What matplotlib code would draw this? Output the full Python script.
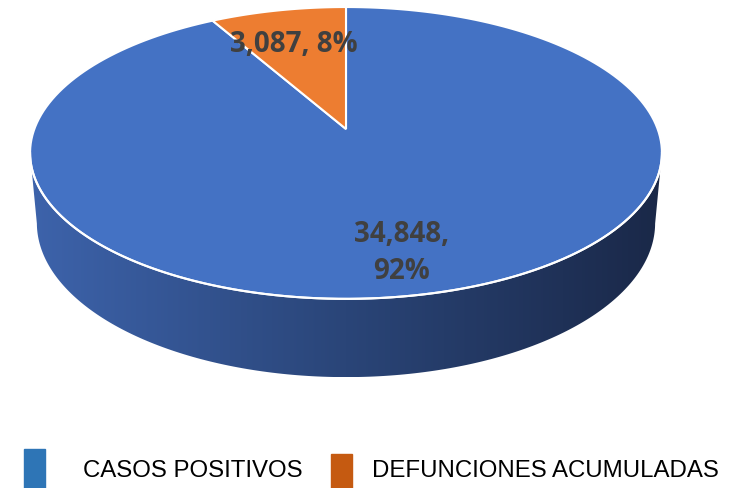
import numpy as np
import matplotlib
matplotlib.use("Agg")
import matplotlib.pyplot as plt
from matplotlib.patches import Polygon, Rectangle
from matplotlib.colors import LinearSegmentedColormap

categories = ["CASOS POSITIVOS", "DEFUNCIONES ACUMULADAS"]
values = [34848, 3087]
face_colors = ["#4472C4", "#ED7D31"]
legend_colors = ["#2E75B6", "#C55A11"]

# camera for the 3d look (disk radius 1)
ELEV = np.arcsin(0.4556)
DIST = 5.426
FOCAL = 1691.0
HEIGHT = 0.255
CX, CY = 346, 130


def proj(x, d, z):
    yc = d * np.sin(ELEV) + z * np.cos(ELEV)
    depth = DIST + d * np.cos(ELEV) - z * np.sin(ELEV)
    return CX + FOCAL * x / depth, CY - FOCAL * yc / depth


def arc(t0, t1, z=0.0, n=200):
    t = np.linspace(t0, t1, n)
    return np.column_stack(proj(np.cos(t), np.sin(t), z))


fig = plt.figure(figsize=(7.43, 4.89), dpi=100)
ax = fig.add_axes([0, 0, 1, 1])
ax.set_xlim(0, 743)
ax.set_ylim(489, 0)
ax.axis("off")

# side wall, front half only
k = np.cos(ELEV) / DIST
ts = np.arcsin(k)
top = arc(np.pi + ts, 2 * np.pi - ts)
bot = arc(2 * np.pi - ts, np.pi + ts, z=-HEIGHT)
side = Polygon(np.vstack([top, bot]), closed=True, facecolor="none", edgecolor="none")
ax.add_patch(side)
cmap = LinearSegmentedColormap.from_list("side", ["#3D63AB", "#2A4578", "#1A2848"])
grad = np.linspace(0, 1, 256).reshape(1, -1)
xs = np.vstack([top, bot])
im = ax.imshow(grad, cmap=cmap, aspect="auto",
               extent=[xs[:, 0].min(), xs[:, 0].max(), xs[:, 1].max(), xs[:, 1].min()])
im.set_clip_path(side)

# top face wedges, clockwise from 12 o'clock
fracs = np.array(values) / sum(values)
start = np.pi / 2
for frac, col in zip(fracs, face_colors):
    end = start - frac * 2 * np.pi
    pts = np.vstack([[proj(0, 0, 0)], arc(start, end)])
    ax.add_patch(Polygon(pts, closed=True, facecolor=col, edgecolor="white",
                         linewidth=1.5, joinstyle="miter"))
    start = end

# front rim highlight
ax.plot(top[:, 0], top[:, 1], color="white", lw=1.5)

# data labels
lbl = dict(color="#404040", fontsize=20, fontweight="bold", family="Open Sans",
           ha="center", va="center")
ax.text(294, 44, f"{values[1]:,}, {fracs[1]:.0%}", **lbl)
ax.text(402, 253, f"{values[0]:,},\n{fracs[0]:.0%}", linespacing=1.4, **lbl)

# legend
ax.add_patch(Rectangle((24, 450), 21, 40, color=legend_colors[0], clip_on=False))
ax.add_patch(Rectangle((331, 455), 21, 35, color=legend_colors[1], clip_on=False))
leg = dict(color="black", fontsize=17.3, family="Liberation Sans", va="center")
ax.text(83, 471, categories[0], **leg)
ax.text(372, 471, categories[1], **leg)

fig.savefig("out.png", dpi=100)
